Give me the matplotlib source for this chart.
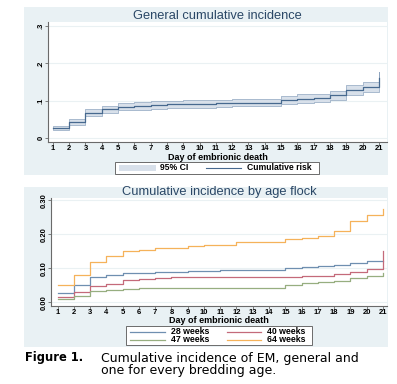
import matplotlib
matplotlib.use("Agg")
import matplotlib.pyplot as plt
from matplotlib.patches import Rectangle
from matplotlib.lines import Line2D
import numpy as np

days = list(range(1, 22))

general_risk = [0.027, 0.044, 0.068, 0.077, 0.084, 0.086, 0.088, 0.090, 0.091, 0.091,
                0.093, 0.095, 0.095, 0.095, 0.102, 0.105, 0.108, 0.114, 0.128, 0.136, 0.160]
general_lo = [0.021, 0.036, 0.059, 0.067, 0.074, 0.076, 0.078, 0.080, 0.081, 0.081,
              0.083, 0.085, 0.085, 0.085, 0.091, 0.094, 0.097, 0.102, 0.115, 0.123, 0.123]
general_hi = [0.033, 0.052, 0.077, 0.087, 0.094, 0.096, 0.098, 0.100, 0.101, 0.101,
              0.103, 0.105, 0.105, 0.105, 0.113, 0.117, 0.119, 0.126, 0.141, 0.149, 0.178]

w28 = [0.027, 0.050, 0.073, 0.080, 0.085, 0.087, 0.088, 0.090, 0.092, 0.092, 0.094,
       0.096, 0.096, 0.096, 0.102, 0.105, 0.107, 0.110, 0.117, 0.122, 0.122]
w40 = [0.015, 0.029, 0.047, 0.055, 0.065, 0.068, 0.071, 0.073, 0.073, 0.073, 0.073,
       0.073, 0.073, 0.073, 0.075, 0.076, 0.078, 0.082, 0.090, 0.097, 0.152]
w47 = [0.011, 0.019, 0.034, 0.037, 0.040, 0.043, 0.043, 0.043, 0.043, 0.043, 0.043,
       0.043, 0.043, 0.043, 0.050, 0.056, 0.059, 0.064, 0.072, 0.078, 0.085]
w64 = [0.052, 0.079, 0.120, 0.135, 0.151, 0.154, 0.160, 0.160, 0.166, 0.168, 0.170,
       0.177, 0.177, 0.177, 0.187, 0.189, 0.194, 0.209, 0.240, 0.258, 0.275]

series_labels = ["28 weeks", "40 weeks", "47 weeks", "64 weeks"]
series_colors = ["#6f8fb0", "#c46a7a", "#97ae80", "#f5b25a"]

top_yticks = [0, 0.1, 0.2, 0.3]
top_yticklabels = ["0", ".1", ".2", ".3"]
bot_yticks = [0, 0.1, 0.2, 0.3]
bot_yticklabels = ["0.00", "0.10", "0.20", "0.30"]

plt.rcParams['font.family'] = ['Liberation Sans', 'DejaVu Sans']

W, H = 397, 384
fig = plt.figure(figsize=(W / 100, H / 100), dpi=100)
fig.patch.set_facecolor("white")

def px_axes(l, t, r, b):
    return [l / W, 1 - b / H, (r - l) / W, (b - t) / H]

BG = "#e9f1f4"
TITLE_C = "#2a4766"
AX_C = "#6a6a6a"

# panel backgrounds
for (l, t, r, b) in [(24, 7, 388, 175), (24, 187, 388, 347)]:
    fig.patches.append(Rectangle((l / W, 1 - b / H), (r - l) / W, (b - t) / H,
                                 transform=fig.transFigure, facecolor=BG,
                                 edgecolor="none", zorder=-5))

def style_axes(ax, yticks, ylabels, label_y):
    ax.set_zorder(2)
    ax.set_facecolor("white")
    for s in ["top", "right"]:
        ax.spines[s].set_visible(False)
    for s in ["left", "bottom"]:
        ax.spines[s].set_color(AX_C)
        ax.spines[s].set_linewidth(0.8)
    ax.set_xticks(days)
    ax.set_xticklabels([str(d) for d in days], fontsize=5.5, fontweight="bold")
    ax.set_yticks(yticks)
    ax.set_yticklabels(ylabels, fontsize=5.5, rotation=90, va="center", fontweight="bold")
    ax.tick_params(axis="both", length=2.0, width=0.6, color=AX_C, pad=0.5)
    ax.grid(axis="y", color="#eaf1f3", linewidth=0.8)
    ax.set_axisbelow(True)
    ax.set_xlabel("Day of embrionic death", fontsize=6.5, fontweight="bold")
    ax.xaxis.set_label_coords(0.5, label_y)
    ax.xaxis.label.set_va("center")

# top chart  (axes px: left 48, top 22, right 387, bottom 142)
ax1 = fig.add_axes(px_axes(48, 22, 387, 142))
ax1.set_xlim(0.7, 21.5)
ax1.set_ylim(-0.0107, 0.3107)
style_axes(ax1, top_yticks, top_yticklabels, -(157 - 142) / 120)
ax1.fill_between(days, general_lo, general_hi, step="post", color="#d8e0ea",
                 edgecolor="#8fa5bf", linewidth=0.5, zorder=2)
ax1.plot(days, general_risk, drawstyle="steps-post", color="#47698f", lw=0.9, zorder=3)
ax1.set_title("General cumulative incidence", fontsize=9.3, color=TITLE_C, pad=1)

# top legend
lx0, ly0, lx1, ly1 = 115, 162, 319, 174
fig.patches.append(Rectangle((lx0 / W, 1 - ly1 / H), (lx1 - lx0) / W, (ly1 - ly0) / H,
                             transform=fig.transFigure, facecolor="white",
                             edgecolor="#555555", linewidth=0.6, zorder=5))
fig.patches.append(Rectangle((119 / W, 1 - 171.5 / H), (156 - 119) / W, 7 / H,
                             transform=fig.transFigure, facecolor="#d8e0ea",
                             edgecolor="none", zorder=6))
fig.text(160 / W, 1 - 168 / H, "95% CI", fontsize=6.2, va="center", ha="left",
         fontweight="bold", zorder=7)
fig.lines.append(Line2D([206 / W, 241 / W], [1 - 168 / H, 1 - 168 / H],
                        transform=fig.transFigure, color="#47698f", lw=0.8, zorder=7))
fig.text(247 / W, 1 - 168 / H, "Cumulative risk", fontsize=6.2, va="center", ha="left",
         fontweight="bold", zorder=7)

# bottom chart (axes px: left 51, top 198, right 387, bottom 306)
ax2 = fig.add_axes(px_axes(51, 198, 387, 306))
ax2.set_xlim(0.6, 21.25)
ax2.set_ylim(-0.011, 0.307)
style_axes(ax2, bot_yticks, bot_yticklabels, -(320.5 - 306) / 108)
for vals, c in zip([w28, w40, w47, w64], series_colors):
    ax2.plot(days, vals, drawstyle="steps-post", color=c, lw=0.9, zorder=3)
ax2.set_title("Cumulative incidence by age flock", fontsize=9.3, color=TITLE_C, pad=0)

# bottom legend
bx0, by0, bx1, by1 = 126, 326, 312, 345
fig.patches.append(Rectangle((bx0 / W, 1 - by1 / H), (bx1 - bx0) / W, (by1 - by0) / H,
                             transform=fig.transFigure, facecolor="white",
                             edgecolor="#555555", linewidth=0.6, zorder=5))
pos = [(130, 165, 171, 331.5), (227, 261, 267, 331.5),
       (130, 165, 171, 340), (227, 261, 267, 340)]
for (x0, x1, tx, yy), lab, c in zip(pos, series_labels, series_colors):
    fig.lines.append(Line2D([x0 / W, x1 / W], [1 - yy / H, 1 - yy / H],
                            transform=fig.transFigure, color=c, lw=0.9, zorder=7))
    fig.text(tx / W, 1 - yy / H, lab, fontsize=6.3, va="center", ha="left",
             fontweight="bold", zorder=7)

# caption
fig.text(25 / W, 1 - 357.5 / H, "Figure 1.", fontsize=8.3, fontweight="heavy",
         family="DejaVu Sans", va="center", ha="left")
fig.text(101 / W, 1 - 352 / H,
         "Cumulative incidence of EM, general and\none for every bredding age.",
         fontsize=9.0, family="DejaVu Sans", va="top", ha="left", linespacing=0.9)

fig.savefig("out.png", dpi=100, facecolor="white")
